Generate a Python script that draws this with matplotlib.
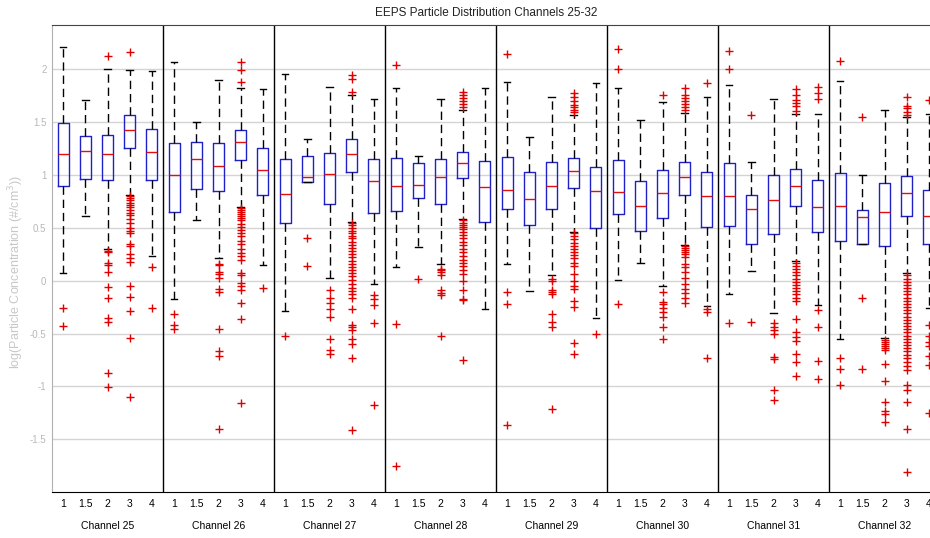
import matplotlib

matplotlib.use("Agg")
import matplotlib.pyplot as plt
import numpy as np

plt.rcParams["font.family"] = ["Liberation Sans", "DejaVu Sans"]

# Tieu de cac nhom kenh va nhan kich thuoc trong moi nhom
CHANNELS = ["Channel 25", "Channel 26", "Channel 27", "Channel 28",
            "Channel 29", "Channel 30", "Channel 31", "Channel 32"]
SIZE_LABELS = ["1", "1.5", "2", "3", "4"]

# Thong ke hop (doc tu hinh), 5 gia tri moi kenh theo thu tu SIZE_LABELS
WHIS_LO = [0.07, 0.61, 0.30, 0.81, 0.23,
           -0.17, 0.57, 0.21, 0.70, 0.15,
           -0.29, 0.93, 0.03, 0.56, -0.03,
           0.13, 0.32, 0.16, 0.58, -0.27,
           0.16, -0.10, 0.05, 0.46, -0.35,
           0.01, 0.17, -0.05, 0.34, -0.24,
           -0.13, 0.09, -0.31, 0.19, -0.23,
           -0.55, 0.35, -0.54, 0.07, -0.26]
Q1 = [0.90, 0.96, 0.95, 1.26, 0.95,
      0.65, 0.87, 0.85, 1.14, 0.81,
      0.55, 0.93, 0.73, 1.03, 0.64,
      0.66, 0.78, 0.73, 0.97, 0.56,
      0.68, 0.53, 0.68, 0.88, 0.50,
      0.63, 0.47, 0.59, 0.81, 0.51,
      0.52, 0.35, 0.44, 0.71, 0.46,
      0.38, 0.35, 0.33, 0.61, 0.35]
MEDIAN = [1.20, 1.23, 1.20, 1.43, 1.22,
          1.00, 1.15, 1.09, 1.31, 1.05,
          0.82, 0.98, 1.01, 1.20, 0.94,
          0.90, 0.91, 0.98, 1.11, 0.89,
          0.86, 0.77, 0.90, 1.04, 0.85,
          0.84, 0.71, 0.83, 0.98, 0.80,
          0.80, 0.68, 0.76, 0.90, 0.70,
          0.71, 0.60, 0.65, 0.83, 0.61]
Q3 = [1.49, 1.37, 1.38, 1.57, 1.44,
      1.30, 1.31, 1.30, 1.43, 1.26,
      1.15, 1.18, 1.21, 1.34, 1.15,
      1.16, 1.11, 1.15, 1.22, 1.13,
      1.17, 1.03, 1.12, 1.16, 1.08,
      1.14, 0.94, 1.05, 1.12, 1.03,
      1.11, 0.81, 1.00, 1.06, 0.95,
      1.02, 0.67, 0.92, 0.99, 0.86]
WHIS_HI = [2.21, 1.71, 2.00, 1.99, 1.98,
           2.07, 1.50, 1.90, 1.82, 1.81,
           1.96, 1.34, 1.83, 1.76, 1.72,
           1.82, 1.18, 1.72, 1.62, 1.82,
           1.88, 1.36, 1.74, 1.57, 1.87,
           1.82, 1.52, 1.69, 1.59, 1.74,
           1.85, 1.12, 1.72, 1.58, 1.58,
           1.89, 1.00, 1.62, 1.55, 1.58]

OUTLIERS = [
    # Channel 25
    [-0.26, -0.43],
    [],
    [2.13, 0.28, 0.27, 0.17, 0.15, 0.08, -0.06, -0.16, -0.35, -0.39, -0.87, -1.01],
    [2.16, 0.80, 0.78, 0.76, 0.74, 0.72, 0.70, 0.67, 0.64, 0.62, 0.58, 0.55, 0.50,
     0.47, 0.45, 0.35, 0.33, 0.25, 0.21, 0.18, -0.05, -0.15, -0.29, -0.54, -1.10],
    [0.13, -0.26],
    # Channel 26
    [-0.32, -0.42, -0.46],
    [],
    [0.16, 0.15, 0.08, 0.06, 0.03, -0.08, -0.11, -0.46, -0.67, -0.71, -1.40],
    [2.07, 1.99, 1.88, 0.69, 0.67, 0.65, 0.63, 0.61, 0.59, 0.57, 0.54, 0.51, 0.48,
     0.45, 0.42, 0.38, 0.35, 0.30, 0.26, 0.23, 0.20, 0.07, 0.05, -0.02, -0.05,
     -0.09, -0.21, -0.36, -1.16],
    [-0.07],
    # Channel 27
    [-0.52],
    [0.40, 0.14],
    [-0.09, -0.16, -0.21, -0.27, -0.34, -0.55, -0.66, -0.69],
    [1.95, 1.91, 1.79, 0.55, 0.53, 0.50, 0.47, 0.45, 0.42, 0.40, 0.37, 0.34, 0.31,
     0.28, 0.25, 0.22, 0.19, 0.16, 0.13, 0.10, 0.07, 0.04, 0.01, -0.03, -0.07,
     -0.10, -0.13, -0.16, -0.27, -0.42, -0.44, -0.47, -0.55, -0.60, -0.73, -1.41],
    [-0.14, -0.17, -0.23, -0.40, -1.18],
    # Channel 28
    [2.04, -0.41, -1.75],
    [0.02],
    [0.11, 0.10, 0.08, 0.05, -0.09, -0.12, -0.14, -0.52],
    [1.79, 1.76, 1.73, 1.70, 1.67, 1.64, 0.57, 0.55, 0.53, 0.51, 0.49, 0.46, 0.43,
     0.40, 0.37, 0.34, 0.30, 0.27, 0.23, 0.20, 0.17, 0.14, 0.10, 0.06, 0.00,
     -0.09, -0.17, -0.18, -0.75],
    [],
    # Channel 29
    [2.15, -0.11, -0.22, -1.37],
    [],
    [0.02, 0.00, -0.09, -0.11, -0.13, -0.32, -0.39, -0.44, -1.21],
    [1.78, 1.74, 1.70, 1.66, 1.64, 1.62, 1.60, 0.45, 0.42, 0.39, 0.36, 0.33, 0.30,
     0.27, 0.24, 0.21, 0.17, 0.14, 0.06, 0.00, -0.05, -0.08, -0.19, -0.25, -0.59,
     -0.69],
    [-0.50],
    # Channel 30
    [2.19, 2.00, -0.22],
    [],
    [1.76, -0.11, -0.20, -0.22, -0.26, -0.30, -0.34, -0.44, -0.55],
    [1.82, 1.76, 1.73, 1.70, 1.67, 1.64, 1.62, 0.33, 0.31, 0.29, 0.27, 0.25, 0.22,
     0.16, 0.13, 0.08, 0.03, -0.03, -0.08, -0.12, -0.16, -0.21],
    [1.87, -0.27, -0.30, -0.73],
    # Channel 31
    [2.17, 2.00, -0.40],
    [1.57, -0.39],
    [-0.40, -0.44, -0.47, -0.50, -0.72, -0.74, -1.03, -1.13],
    [1.81, 1.76, 1.71, 1.68, 1.65, 1.61, 0.17, 0.14, 0.11, 0.08, 0.05, 0.02, -0.01,
     -0.04, -0.07, -0.10, -0.13, -0.16, -0.19, -0.36, -0.49, -0.53, -0.57, -0.69,
     -0.77, -0.90],
    [1.83, 1.78, 1.72, -0.28, -0.44, -0.76, -0.93],
    # Channel 32
    [2.08, -0.73, -0.84, -0.99],
    [1.55, -0.16, -0.84],
    [-0.56, -0.58, -0.60, -0.62, -0.64, -0.66, -0.79, -0.95, -1.15, -1.23, -1.26,
     -1.34],
    [1.74, 1.65, 1.63, 1.60, 1.57, 0.05, 0.02, -0.01, -0.04, -0.07, -0.10, -0.13,
     -0.16, -0.19, -0.22, -0.25, -0.28, -0.31, -0.34, -0.37, -0.40, -0.43, -0.46,
     -0.49, -0.52, -0.55, -0.58, -0.61, -0.64, -0.67, -0.70, -0.73, -0.77, -0.81,
     -0.85, -0.99, -1.03, -1.15, -1.40, -1.81],
    [1.71, -0.42, -0.52, -0.58, -0.62, -0.71, -0.80, -1.25],
]


def build_stats():
    # Gom cac mang thong ke thanh danh sach dict cho ax.bxp
    stats = []
    for i in range(len(MEDIAN)):
        stats.append({
            "whislo": WHIS_LO[i], "q1": Q1[i], "med": MEDIAN[i],
            "q3": Q3[i], "whishi": WHIS_HI[i], "fliers": OUTLIERS[i],
        })
    return stats


def main():
    fig = plt.figure(figsize=(9.3, 5.38), dpi=100)
    # Truc rong hon khung hinh mot chut: kenh 32 bi cat o ben phai nhu anh goc
    ax = fig.add_axes([52 / 930, 1 - 492 / 538, 888 / 930, 467 / 538])

    n_groups = len(CHANNELS)
    n_sizes = len(SIZE_LABELS)
    positions = np.arange(n_groups * n_sizes) + 0.5

    ax.bxp(
        build_stats(),
        positions=positions,
        widths=0.5,
        capwidths=0.3,
        showfliers=True,
        boxprops=dict(color="#2020c8", linewidth=1.0),
        medianprops=dict(color="#e01010", linewidth=1.0),
        whiskerprops=dict(color="black", linewidth=1.0, linestyle=(0, (6, 3.5))),
        capprops=dict(color="black", linewidth=1.0),
        flierprops=dict(marker="+", markeredgecolor="#e00000", markersize=6,
                        markeredgewidth=1.0, linestyle="none"),
    )

    ax.set_xlim(0, n_groups * n_sizes)
    ax.set_ylim(-2.0, 2.42)

    # Duong phan cach giua cac kenh
    for k in range(1, n_groups):
        ax.axvline(k * n_sizes, color="black", linewidth=1.0, zorder=1)

    ax.set_yticks([-1.5, -1, -0.5, 0, 0.5, 1, 1.5, 2])
    ax.set_yticklabels(["-1.5", "-1", "-0.5", "0", "0.5", "1", "1.5", "2"])
    ax.yaxis.grid(True, color="#d4d4d4", linewidth=1.0)
    ax.set_axisbelow(True)
    ax.tick_params(axis="y", length=0, pad=4, labelsize=7, labelcolor="#b8b8b8")

    ax.set_xticks(positions)
    ax.set_xticklabels(SIZE_LABELS * n_groups)
    ax.tick_params(axis="x", length=0, pad=5, labelsize=7.5, labelcolor="black")

    for k, name in enumerate(CHANNELS):
        ax.text(k * n_sizes + n_sizes / 2, -0.072, name, transform=ax.get_xaxis_transform(),
                ha="center", va="center", fontsize=7.5, color="black")

    ax.spines["left"].set_color("#b0b0b0")
    ax.spines["bottom"].set_color("black")
    ax.spines["top"].set_color("#444444")
    ax.spines["right"].set_visible(False)

    fig.text(486 / 930, 1 - 13 / 538, "EEPS Particle Distribution Channels 25-32",
             ha="center", va="center", fontsize=8.5, color="#222222")
    fig.text(16 / 930, 1 - 272 / 538, "log(Particle Concentration (#/cm$^3$))",
             rotation=90, ha="center", va="center", fontsize=9, color="#c8c8c8")

    fig.savefig("out.png", dpi=100)
    plt.close(fig)


if __name__ == "__main__":
    main()
